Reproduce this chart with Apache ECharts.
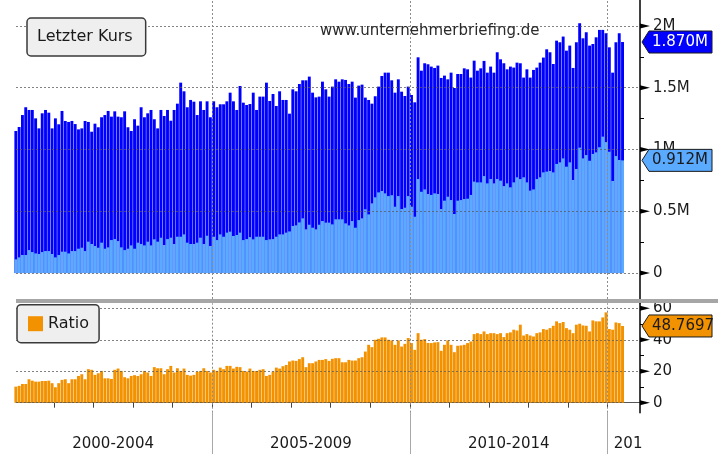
<!DOCTYPE html>
<html>
<head>
<meta charset="utf-8">
<script src="https://cdn.jsdelivr.net/npm/echarts@6/dist/echarts.min.js"></script>
<style>
  html, body { margin: 0; padding: 0; background: #ffffff; }
  #chart { width: 718px; height: 454px; }
</style>
</head>
<body>
<div id="chart"></div>
<script>
// Monthly series starting January 2000 (values in millions)
const kursGesamt = [
  1.150,1.182,1.279,1.342,1.320,1.320,1.252,1.171,1.293,1.320,
  1.298,1.171,1.252,1.204,1.312,1.231,1.223,1.231,1.206,1.163,
  1.171,1.231,1.223,1.144,1.209,1.180,1.261,1.279,1.312,1.266,
  1.309,1.266,1.261,1.309,1.180,1.150,1.245,1.193,1.342,1.261,
  1.293,1.320,1.245,1.171,1.320,1.271,1.320,1.233,1.320,1.371,
  1.541,1.471,1.342,1.401,1.387,1.279,1.390,1.320,1.390,1.261,
  1.390,1.342,1.366,1.366,1.390,1.460,1.390,1.320,1.514,
  1.379,1.360,1.368,1.460,1.320,1.428,1.428,1.541,1.393,1.449,
  1.352,1.471,1.401,1.401,1.290,1.487,1.471,1.530,1.560,1.560,
  1.590,1.460,1.422,1.428,1.549,1.487,1.428,1.509,1.568,1.549,
  1.568,1.563,1.530,1.549,1.420,1.517,1.525,1.420,1.401,1.371,
  1.431,1.509,1.595,1.622,1.622,1.560,1.460,1.568,1.468,1.433,
  1.509,1.441,1.382,1.746,1.638,1.698,1.690,1.671,1.660,1.679,
  1.579,1.598,1.568,1.622,1.498,1.611,1.611,1.657,1.649,1.582,
  1.719,1.638,1.657,
  1.717,1.622,1.671,1.622,1.787,1.730,1.698,1.649,1.671,1.663,
  1.703,1.698,1.582,1.649,1.582,1.644,1.663,1.703,1.744,1.811,
  1.787,1.692,1.881,1.868,1.914,1.800,1.841,1.660,1.868,2.022,
  1.900,1.949,1.841,1.854,1.908,1.968,1.968,1.941,1.827,1.622,
  1.868,1.941,1.870
];

const kursTeil = [
  0.111,0.127,0.146,0.146,0.186,0.170,0.159,0.154,0.170,0.178,
  0.178,0.154,0.127,0.146,0.173,0.173,0.159,0.178,0.178,0.197,
  0.205,0.178,0.254,0.235,0.219,0.205,0.246,0.197,0.208,0.267,
  0.275,0.259,0.208,0.186,0.197,0.224,0.197,0.246,0.235,0.224,
  0.254,0.224,0.273,0.254,0.286,0.227,0.275,0.286,0.235,0.294,
  0.294,0.313,0.246,0.235,0.235,0.246,0.286,0.235,0.302,0.219,
  0.294,0.267,0.313,0.294,0.327,0.335,0.300,0.308,0.327,
  0.267,0.275,0.291,0.273,0.294,0.294,0.294,0.267,0.273,0.275,
  0.294,0.313,0.313,0.327,0.337,0.381,0.386,0.410,0.443,0.354,
  0.391,0.367,0.354,0.391,0.421,0.408,0.408,0.394,0.435,0.435,
  0.435,0.402,0.386,0.421,0.367,0.429,0.443,0.516,0.475,0.564,
  0.613,0.653,0.664,0.645,0.623,0.630,0.537,0.623,0.518,0.529,
  0.623,0.537,0.456,
  0.761,0.658,0.677,0.640,0.632,0.645,0.640,0.518,0.586,0.618,
  0.591,0.478,0.586,0.591,0.599,0.602,0.632,0.740,0.734,
  0.734,
  0.785,0.726,0.761,0.726,0.761,0.748,0.704,0.726,0.694,0.734,
  0.775,0.761,0.775,0.734,0.667,0.677,0.761,0.775,0.815,0.821,
  0.826,0.815,0.883,0.896,0.928,0.861,0.896,0.753,0.842,1.015,
  0.928,0.955,0.909,0.964,0.977,1.018,1.104,1.060,0.982,0.745,
  0.947,0.915,0.912
];

const ratio = [
  10.2,10.7,11.9,11.9,14.9,14.0,13.4,13.4,13.8,13.8,
  14.0,12.4,9.8,12.4,14.5,14.9,12.4,14.9,14.9,17.0,
  18.1,14.9,21.3,20.9,17.7,18.7,20.2,15.5,15.5,15.1,
  20.9,21.7,20.2,16.2,15.5,17.0,17.5,17.0,18.1,20.2,
  19.2,17.0,22.6,21.9,21.9,18.1,21.3,23.4,19.2,21.9,
  20.2,21.7,17.7,17.2,17.7,19.6,20.2,21.9,20.2,19.2,
  20.9,20.2,22.3,21.3,23.4,23.4,21.7,22.8,22.6,
  20.2,19.8,21.7,20.2,20.2,20.9,21.3,17.0,17.7,19.8,
  22.3,21.7,23.2,24.0,26.2,26.8,26.6,27.7,28.9,22.6,
  25.1,25.1,26.2,27.2,27.2,27.7,26.6,27.9,28.3,28.3,
  25.7,25.7,27.2,26.8,26.8,28.3,28.9,32.5,36.8,35.3,
  40.0,40.6,41.5,41.5,40.0,39.6,36.8,39.6,35.7,37.4,
  41.1,37.9,33.6,
  44.2,40.0,40.4,38.0,37.9,38.3,38.5,33.0,36.8,39.6,
  36.8,32.1,36.2,36.4,36.8,37.9,38.9,43.6,44.2,
  43.6,
  45.3,43.6,44.2,44.2,43.6,44.2,41.7,44.2,44.7,46.4,
  45.9,49.6,42.7,43.6,42.7,42.1,44.2,44.7,46.8,46.4,
  47.4,48.9,51.7,50.6,51.3,47.4,46.4,44.2,49.6,50.2,
  49.1,48.9,45.3,52.3,51.7,51.7,54.2,57.4,46.8,46.4,
  51.0,50.6,48.7697
];

// Axis ticks and labels
const kursTicks = [0, 0.5, 1, 1.5, 2];
const kursTickLabels = ['0', '0.5M', '1M', '1.5M', '2M'];
const ratioTicks = [0, 20, 40, 60];
const ratioTickLabels = ['0', '20', '40', '60'];
const periods = ['2000-2004', '2005-2009', '2010-2014', '2015-2019'];

// Time axis measured in months since January 2000
const yearBounds = [12, 24, 36, 48, 60, 72, 84, 96, 108, 120, 132, 144, 156, 168, 180];
const periodBounds = [60, 120, 180];
const periodLabelPos = [30, 90, 150, 186.2];
const xMin = 0.55, xMax = 189.8;

const FONT = 'DejaVu Sans';
const BAR_W = 2.9;
const monthPoints = arr => arr.map((v, i) => [i + 0.5, v]);

const chart = echarts.init(document.getElementById('chart'), null, { renderer: 'canvas' });

const dottedGrid = { color: 'rgba(90,90,90,0.75)', type: [2, 2], width: 1 };
const periodLines = {
  symbol: 'none', silent: true, animation: false,
  label: { show: false },
  lineStyle: { color: '#8c8c8c', type: [2, 2], width: 1 },
  data: periodBounds.map(v => ({ xAxis: v }))
};

const option = {
  animation: false,
  backgroundColor: '#ffffff',
  textStyle: { fontFamily: FONT },
  grid: [
    { left: 16, right: 78, top: 0, height: 299 },
    { left: 16, right: 78, top: 303.3, height: 109.4 }
  ],
  xAxis: [
    { gridIndex: 0, type: 'value', min: xMin, max: xMax, show: false },
    {
      gridIndex: 1, type: 'value', min: xMin, max: xMax, position: 'bottom',
      axisLine: { show: true, lineStyle: { color: '#555555', width: 1 } },
      axisTick: { show: true, customValues: yearBounds, length: 5, lineStyle: { color: '#444444' } },
      axisLabel: { show: false },
      splitLine: { show: false }
    },
    {
      gridIndex: 1, type: 'value', min: xMin, max: xMax, position: 'bottom',
      axisLine: { show: false },
      axisTick: { show: true, customValues: periodBounds, length: 42, lineStyle: { color: '#a8a8a8' } },
      axisLabel: {
        customValues: periodLabelPos, margin: 24, fontSize: 15, color: '#1a1a1a', fontFamily: FONT,
        // the last period only starts at the right edge, so only its first digits fit
        formatter: (v, i) => {
          const k = periodLabelPos.indexOf(v);
          const t = periods[k >= 0 ? k : i];
          return k === periods.length - 1 ? t.slice(0, 3) : t;
        }
      },
      splitLine: { show: false }
    }
  ],
  yAxis: [
    {
      gridIndex: 0, type: 'value', position: 'right', min: -0.21, max: 2.21, splitNumber: 5, z: 3,
      axisLine: { show: true, lineStyle: { color: '#000000', width: 1.5 } },
      axisTick: { show: false },
      minorTick: { show: true, splitNumber: 2, length: 4, lineStyle: { color: '#000000', width: 1 } },
      axisLabel: {
        customValues: kursTicks, margin: 13, fontSize: 15, color: '#1a1a1a', fontFamily: FONT,
        formatter: v => kursTickLabels[kursTicks.indexOf(v)]
      },
      splitLine: { show: true, showMinLine: false, showMaxLine: false, lineStyle: dottedGrid }
    },
    {
      gridIndex: 1, type: 'value', position: 'right', min: -6.36, max: 63.18, splitNumber: 4, z: 3,
      axisLine: { show: true, lineStyle: { color: '#000000', width: 1.5 } },
      axisTick: { show: false },
      minorTick: { show: true, splitNumber: 2, length: 4, lineStyle: { color: '#000000', width: 1 } },
      axisLabel: {
        customValues: ratioTicks, margin: 13, fontSize: 15, color: '#1a1a1a', fontFamily: FONT,
        formatter: v => ratioTickLabels[ratioTicks.indexOf(v)]
      },
      splitLine: { show: true, showMinLine: false, showMaxLine: false, lineStyle: dottedGrid }
    }
  ],
  legend: [
    {
      data: ['Letzter Kurs'], left: 27, top: 18, selectedMode: false,
      itemWidth: 0, itemHeight: 0, padding: [11, 13, 11, 5],
      backgroundColor: '#efefef', borderColor: '#3a3a3a', borderWidth: 1.5, borderRadius: 4,
      textStyle: { fontSize: 16, color: '#1a1a1a', fontFamily: FONT }
    },
    {
      data: ['Ratio'], left: 17, top: 304.7, selectedMode: false, icon: 'rect',
      itemWidth: 15, itemHeight: 15, padding: [11, 10, 11, 11],
      backgroundColor: '#efefef', borderColor: '#3a3a3a', borderWidth: 1.5, borderRadius: 4,
      textStyle: { fontSize: 16, color: '#1a1a1a', fontFamily: FONT }
    }
  ],
  series: [
    {
      name: 'Letzter Kurs', type: 'bar', xAxisIndex: 0, yAxisIndex: 0,
      data: monthPoints(kursGesamt), barWidth: BAR_W, barGap: '-100%',
      itemStyle: { color: '#0000ff' }, silent: true,
      markLine: periodLines
    },
    {
      name: 'Letzter Kurs', type: 'bar', xAxisIndex: 0, yAxisIndex: 0,
      data: monthPoints(kursTeil), barWidth: BAR_W, barGap: '-100%',
      itemStyle: { color: '#5aaaff' }, silent: true
    },
    {
      name: 'Ratio', type: 'bar', xAxisIndex: 1, yAxisIndex: 1,
      data: monthPoints(ratio), barWidth: BAR_W, barGap: '-100%',
      itemStyle: { color: '#f39200' }, silent: true,
      markLine: periodLines
    }
  ]
};

chart.setOption(option);

// Arrow ticks, value tags, panel separator and site name
function valueTag(y, text, fill, color) {
  return {
    type: 'group', z: 100,
    children: [
      {
        type: 'polygon', z: 100,
        shape: { points: [[642, y], [649, y - 11], [712, y - 11], [712, y + 11], [649, y + 11]] },
        style: { fill: fill, stroke: '#1a1a1a', lineWidth: 1 }
      },
      {
        type: 'text', z: 101, x: 652, y: y,
        style: { text: text, fill: color, font: '15px "' + FONT + '"', textVerticalAlign: 'middle' }
      }
    ]
  };
}

function arrowTicks(ticks, yAxisIndex) {
  return ticks.map(v => {
    const y = chart.convertToPixel({ yAxisIndex: yAxisIndex }, v);
    return {
      type: 'polygon', z: 90,
      shape: { points: [[640, y - 2.5], [650, y], [640, y + 2.5]] },
      style: { fill: '#000000' }
    };
  });
}

const last = kursGesamt.length - 1;
const yGesamt = chart.convertToPixel({ yAxisIndex: 0 }, kursGesamt[last]);
const yTeil = chart.convertToPixel({ yAxisIndex: 0 }, kursTeil[last]);
const yRatio = chart.convertToPixel({ yAxisIndex: 1 }, ratio[last]);

chart.setOption({
  graphic: [
    {
      type: 'rect', z: 50, silent: true,
      shape: { x: 16, y: 299, width: 702, height: 4 },
      style: { fill: '#a6a6a6' }
    },
    {
      type: 'text', z: 10, x: 320, y: 24, silent: true,
      style: { text: 'www.unternehmerbriefing.de', fill: '#2a2a2a', font: '15px "' + FONT + '"' }
    },
    ...arrowTicks(kursTicks, 0),
    ...arrowTicks(ratioTicks, 1),
    valueTag(yGesamt, kursGesamt[last].toFixed(3) + 'M', '#0000ff', '#ffffff'),
    valueTag(yTeil, kursTeil[last].toFixed(3) + 'M', '#5aaaff', '#1a1a1a'),
    valueTag(yRatio, String(ratio[last]), '#f39200', '#1a1a1a')
  ]
});
</script>
</body>
</html>
